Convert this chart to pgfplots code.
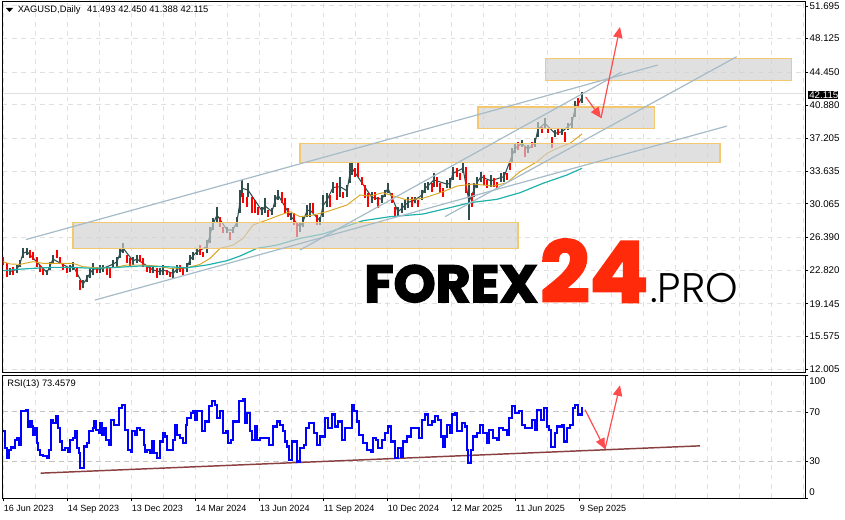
\documentclass[border=0pt]{standalone}
\usepackage{fontspec}
\usepackage{pgfplots}
\usepackage{pgfplotstable}
\pgfplotsset{compat=1.18}
\usetikzlibrary{arrows.meta}
\setmainfont{Liberation Sans}
\newfontfamily\logobold{Poppins}[FakeBold=3,FakeStretch=1.03]
\newfontfamily\logolight{Poppins Light}

\definecolor{candleup}{HTML}{2F4F4F}
\definecolor{candledn}{HTML}{FF0000}
\definecolor{maslow}{HTML}{DAA520}
\definecolor{mafast}{HTML}{20B2AA}
\definecolor{trend}{HTML}{A6BBC8}
\definecolor{zonefill}{HTML}{D0D0D0}
\definecolor{zoneedge}{HTML}{F4C86E}
\definecolor{gridc}{HTML}{E0E0E0}
\definecolor{levelc}{HTML}{C4C4C4}
\definecolor{arrowc}{HTML}{FF4D4D}
\definecolor{rsitrend}{HTML}{8B4040}
\definecolor{logored}{HTML}{FF2A0A}

% candles: bar, low, high
\pgfplotstableread{
x l h
10 22.28 23.01
17 22.46 23.38
20 23.19 23.92
23 24.10 25.20
27 24.47 25.20
47 22.28 22.83
50 22.83 23.74
53 23.56 24.47
70 22.65 23.38
73 22.83 23.74
83 20.82 21.73
87 21.55 22.28
90 21.92 23.01
93 22.28 23.56
100 22.46 23.38
103 22.65 23.38
113 23.01 23.92
117 23.19 24.29
120 24.10 25.20
123 24.65 25.82
133 23.38 24.29
137 23.56 24.47
153 22.46 23.19
160 22.28 23.01
163 22.28 23.38
173 21.92 23.01
177 22.46 23.38
187 22.65 23.56
190 23.38 24.47
193 23.92 24.83
197 24.47 25.20
207 24.65 26.11
210 25.74 27.57
213 27.20 28.48
217 27.93 29.75
227 26.84 27.57
233 26.84 27.57
237 27.57 28.66
240 29.03 31.58
242 30.85 32.67
248 30.85 32.31
262 28.84 29.75
265 29.03 30.67
272 28.84 29.57
275 29.75 31.03
278 30.48 31.58
291 28.30 29.03
300 27.02 28.12
303 27.57 28.66
307 28.66 29.94
310 28.66 30.12
320 27.75 28.66
323 28.66 31.03
327 29.75 31.21
333 31.21 32.49
340 30.85 33.03
347 30.85 32.12
350 32.31 34.49
352 33.22 34.67
372 30.12 31.39
382 30.12 31.03
385 30.85 31.58
388 31.21 32.31
398 28.66 29.75
402 29.03 30.12
405 29.39 30.48
408 29.57 30.85
415 30.12 30.85
422 30.48 31.58
425 31.21 32.31
428 31.58 32.49
434 31.94 33.40
447 31.76 32.67
450 31.76 32.85
453 32.67 34.13
463 33.40 34.49
469 28.30 32.31
474 30.85 32.31
477 31.76 33.03
481 32.49 33.58
491 31.94 33.22
501 32.49 33.40
504 32.49 33.58
512 34.49 36.13
515 35.59 36.68
522 36.31 37.04
528 35.59 36.50
535 36.31 37.23
538 37.41 39.05
545 38.32 39.41
555 37.41 38.14
562 37.59 38.32
568 38.14 38.87
572 38.32 39.59
575 39.59 41.26
582 41.05 42.33
}\upbars

\pgfplotstableread{
x l h
3 23.38 24.29
7 22.10 23.56
13 22.28 23.19
30 24.10 25.01
33 23.92 24.83
37 23.19 24.29
40 22.65 23.38
43 22.28 23.01
57 24.10 25.01
60 23.56 24.29
63 22.83 23.56
67 22.46 23.19
77 22.10 23.19
80 20.64 21.73
97 22.46 23.19
107 22.28 23.01
110 21.92 23.01
127 23.56 24.47
130 23.19 24.10
140 23.74 24.47
143 23.19 24.10
147 22.65 23.38
150 22.46 23.38
157 21.92 23.01
167 22.28 22.83
170 22.10 22.65
180 22.65 23.38
183 22.28 23.01
200 24.47 25.56
203 24.29 24.83
220 27.57 28.66
223 26.84 27.57
230 26.11 27.02
243 30.12 31.21
247 29.75 30.85
252 29.03 30.85
255 29.03 30.48
258 28.84 29.75
268 28.66 29.39
282 30.12 31.39
285 29.03 30.67
288 28.66 29.57
294 27.75 29.03
297 26.47 27.93
313 29.03 30.12
317 27.75 28.84
330 29.75 31.03
337 30.48 32.31
343 30.67 31.39
355 33.03 33.95
358 33.03 34.49
362 32.12 33.03
365 30.67 32.12
368 29.75 31.21
375 30.48 31.39
378 29.57 30.85
392 30.12 31.21
395 28.66 29.75
412 29.75 30.85
418 29.75 30.48
432 31.39 32.31
437 31.94 33.03
440 31.21 32.31
443 30.85 31.76
457 33.03 33.95
460 32.67 33.40
466 31.21 34.13
472 29.75 31.21
484 32.12 33.22
487 31.76 32.67
494 31.94 32.85
497 31.76 32.49
507 32.67 33.40
510 33.76 34.67
518 35.95 36.86
525 35.22 36.31
532 36.13 36.86
542 37.77 38.50
548 37.77 38.32
552 36.13 37.41
558 37.59 38.32
565 36.86 37.95
578 40.51 41.60
}\downbars

\pgfplotstableread{
x y
3 23.74
10 23.49
20 23.45
33 23.74
43 23.56
53 23.56
73 23.56
83 23.19
97 23.08
113 23.08
127 23.38
140 23.38
157 23.27
170 23.01
187 23.08
200 23.45
210 24.10
220 25.20
233 25.56
243 26.29
253 27.75
267 28.30
280 28.84
290 29.21
300 28.66
313 28.84
327 29.21
347 29.94
360 31.03
370 30.92
383 31.28
407 30.48
423 30.67
443 31.39
457 32.01
473 32.23
493 32.01
507 32.38
520 33.58
537 34.67
547 35.59
557 36.13
570 36.68
582 37.70
}\maslow

\pgfplotstableread{
x y
3 22.76
17 22.90
33 23.01
53 23.12
73 23.12
93 23.01
117 23.12
140 23.27
167 23.19
187 23.08
207 23.38
227 23.85
240 24.36
257 25.20
277 25.56
300 26.29
323 26.77
340 27.38
363 28.22
390 28.66
423 28.95
447 29.57
470 30.19
497 30.56
520 31.28
543 32.31
567 33.22
582 33.95
}\mafast

\pgfplotstableread{
x y
3.3 54.2
4.7 40.5
6.7 32.4
8.7 39.2
10.7 41.4
12.7 40.5
14.7 47.4
17.3 48.7
19.3 43.3
21.3 70.5
24 71.0
26 71.3
28 58.2
30 62.3
31.7 58.2
33.3 51.4
35 56.9
36.7 44.6
38.3 39.2
40 35.1
43.3 34.3
46.7 32.4
49.3 39.2
51 63.7
53.3 61.0
56 66.4
58.3 56.9
60 46.0
61.7 39.2
65 40.5
67.7 37.8
70 47.4
73.3 48.7
75.3 54.2
76.7 40.5
79.3 36.5
80 24.2
82.7 24.2
84 41.9
87.3 44.6
89.3 54.2
92.7 56.9
94 62.3
96 55.5
98.7 52.8
100 61.0
102 51.4
104 56.9
106 47.4
109.3 43.3
111.3 63.7
114 59.6
116.7 59.6
119.3 73.2
122 75.9
124 75.9
125.3 55.5
128 39.2
130.7 37.8
132 54.2
135 51.4
137.3 56.9
140 55.5
144 43.3
144.7 37.8
147.3 39.2
150 36.5
152 46.0
154 36.5
157.3 32.4
160 46.0
163.3 52.8
165.3 50.1
167.3 39.2
170 39.2
172.7 47.4
174.7 59.6
176.7 51.4
180 48.7
183.3 44.6
186 59.6
187.3 65.0
190.7 69.1
193.3 70.5
195.3 63.7
197.3 70.5
200 70.5
202 54.2
205.3 62.3
208.7 74.6
212 78.6
215.3 75.9
217.3 65.0
220 70.5
222.7 52.8
226 54.2
228 44.6
230.7 47.4
233.3 62.3
237.3 62.3
239.3 78.6
242.7 80.0
244.7 60.9
247.3 69.1
250 54.2
252 47.4
255 58.2
257.3 47.4
260 48.7
263.3 48.7
266.7 48.7
269.3 43.3
273.3 58.2
276.7 62.3
280 59.6
282.7 54.2
284.7 46.0
286.7 41.9
289.3 31.0
292 46.0
294.7 46.0
297.3 29.7
300 40.5
304 43.3
306 56.9
309.3 61.0
312 61.0
314 52.8
317.3 43.3
320 50.1
323.3 50.1
325.3 65.0
328.3 56.9
331.7 67.8
335 58.2
338.3 62.3
341.7 47.4
345 56.9
348.3 56.9
351.7 75.9
354 70.5
356.7 62.3
359.3 51.4
363.3 44.6
366.7 39.2
370.7 37.8
372.7 48.7
376 47.4
378.3 40.5
381.7 47.4
385 52.8
387.7 58.2
390.7 46.0
395 32.4
397.7 40.5
401 33.7
403.3 46.0
407.3 50.1
410.7 56.9
415 56.9
419.3 48.7
421.7 63.7
425 67.8
428.3 59.6
431.7 62.3
435 66.4
438.3 63.7
440.7 50.1
442.7 41.9
445 50.1
446.7 59.6
450 52.8
451.7 67.8
455 69.1
457.3 54.2
461.7 61.0
465 58.2
466.7 39.2
468.3 28.3
470.7 39.2
473.3 50.1
476.7 52.8
480 59.6
483.3 52.8
486.7 44.6
489.3 55.5
493.3 48.7
496.7 47.4
499.3 56.9
503.3 55.5
507.3 51.4
508.7 65.0
512 74.6
515 69.1
519.3 70.5
522 59.6
525 56.9
528.3 56.9
531.7 63.7
535 55.5
537.3 71.8
540.7 63.7
544 73.2
546.7 58.2
549.3 55.5
551.3 41.4
554.7 52.8
557.3 58.2
561.7 59.6
564 46.0
566.7 56.9
570 59.6
572.7 73.2
575.3 75.9
578 67.8
580 67.8
582 74.0
}\rsidata

\begin{document}
\begin{tikzpicture}
\path[use as bounding box] (0,0) rectangle (633.75pt,389.25pt);

% price pane
\begin{axis}[
  name=price,
  scale only axis,
  at={(1.875pt,110.25pt)}, anchor=south west,
  width=601.875pt, height=277.5pt,
  xmin=2.5, xmax=805, ymin=11.68, ymax=52.13,
  axis line style={black,line width=0.75pt},
  xtick={3,35,67,99,131,163,195,227,259,291,323,355,387,419,451,483,515,547,579,611,643,675,707,739,771,803},
  xticklabels={},
  xmajorgrids, ymajorgrids,
  grid style={gridc,line width=0.75pt,dash pattern=on 3.5pt off 3.5pt},
  x tick style={draw=none},
  y tick style={black,line width=0.6pt},
  tick align=outside, major tick length=2.5pt,
  xtick pos=bottom, ytick pos=right, yticklabel pos=right,
  ytick={12.005,15.575,19.145,22.82,26.39,30.065,33.635,37.205,40.88,44.45,48.125,51.695},
  yticklabel style={/pgf/number format/fixed,/pgf/number format/fixed zerofill,/pgf/number format/precision=3,/pgf/number format/assume math mode=true,font=\fontsize{7.3}{8}\selectfont,xshift=-2.5pt},
  scaled y ticks=false,
]
\addplot[gridc,line width=0.9pt] coordinates {(2.5,42.115) (805,42.115)};
\addplot[candleup,line width=0.8pt,forget plot] table[x=x,y expr=(\thisrow{l}+\thisrow{h})/2] {\upbars};
\addplot[draw=none,forget plot,error bars/.cd,y dir=plus,y explicit,error mark=none,error bar style={candleup,line width=2pt}]
  table[x=x,y=l,y error plus expr=\thisrow{h}-\thisrow{l}] {\upbars};
\addplot[draw=none,forget plot,error bars/.cd,y dir=plus,y explicit,error mark=none,error bar style={candledn,line width=2.1pt}]
  table[x=x,y=l,y error plus expr=\thisrow{h}-\thisrow{l}] {\downbars};
\addplot[maslow,line width=0.7pt] table[x=x,y=y] {\maslow};
\addplot[mafast,line width=0.9pt] table[x=x,y=y] {\mafast};
% zones
\addplot[fill=zonefill,fill opacity=0.65,draw=zoneedge,line width=0.8pt] coordinates {(73,25.20) (518,25.20) (518,28.04) (73,28.04)} -- cycle;
\addplot[fill=zonefill,fill opacity=0.65,draw=zoneedge,line width=0.8pt] coordinates {(300,34.60) (720,34.60) (720,36.61) (300,36.61)} -- cycle;
\addplot[fill=zonefill,fill opacity=0.65,draw=zoneedge,line width=0.8pt] coordinates {(478,38.32) (654.5,38.32) (654.5,40.65) (478,40.65)} -- cycle;
\addplot[fill=zonefill,fill opacity=0.65,draw=zoneedge,line width=0.8pt] coordinates {(545.3,43.57) (791.5,43.57) (791.5,45.98) (545.3,45.98)} -- cycle;
% trend lines
\addplot[trend,line width=0.9pt] coordinates {(26,26.16) (657.7,45.24)};
\addplot[trend,line width=0.9pt] coordinates {(300,25.02) (621.7,44.48)};
\addplot[trend,line width=0.9pt] coordinates {(95,19.55) (727,38.57)};
\addplot[trend,line width=0.9pt] coordinates {(445,28.66) (736.7,46.15)};
% arrows
\addplot[arrowc,line width=0.9pt,-{Triangle[length=8pt,width=7pt]}] coordinates {(585.7,41.75) (601,39.45)};
\addplot[arrowc,line width=0.9pt,-{Triangle[length=8pt,width=7pt]}] coordinates {(601,39.45) (620,49.40)};
\end{axis}

% rsi pane
\begin{axis}[
  name=rsi,
  scale only axis,
  at={(1.875pt,15.75pt)}, anchor=south west,
  width=601.875pt, height=92.25pt,
  xmin=2.5, xmax=805, ymin=0, ymax=100,
  axis line style={black,line width=0.75pt},
  xtick={3,67,131,195,259,323,387,451,515,579},
  xticklabels={16 Jun 2023,14 Sep 2023,13 Dec 2023,14 Mar 2024,13 Jun 2024,11 Sep 2024,10 Dec 2024,12 Mar 2025,11 Jun 2025,9 Sep 2025},
  minor xtick={35,99,163,227,291,355,419,483,547,611,643,675,707,739,771,803},
  xmajorgrids, xminorgrids,
  grid style={gridc,line width=0.75pt,dash pattern=on 3.5pt off 3.5pt},
  tick align=outside, major tick length=2.5pt, minor tick length=0pt,
  tick style={black,line width=0.6pt},
  xtick pos=bottom, ytick pos=right, yticklabel pos=right,
  ytick={0,30,70,100},
  yticklabels={},
  xticklabel style={anchor=north west,font=\fontsize{6.75}{8}\selectfont,xshift=-2.8pt,yshift=0.5pt},
]
\addplot[levelc,line width=0.75pt,dash pattern=on 4pt off 3pt] coordinates {(2.5,70) (805,70)};
\addplot[levelc,line width=0.75pt,dash pattern=on 4pt off 3pt] coordinates {(2.5,30) (805,30)};
\addplot[rsitrend,line width=1.1pt] coordinates {(40.7,20.2) (700,42.4)};
\addplot[blue,line width=1.7pt,const plot] table[x=x,y=y] {\rsidata};
\addplot[arrowc,line width=0.9pt,-{Triangle[length=8pt,width=7pt]}] coordinates {(585,71.8) (605,39.8)};
\addplot[arrowc,line width=0.9pt,-{Triangle[length=8pt,width=7pt]}] coordinates {(605,39.8) (620,91.7)};
\end{axis}

% labels in pixel positions from the top left
\begin{scope}[x=0.75pt,y=-0.75pt,yshift=389.25pt]
\fill[black] (6,8) -- (13,8) -- (9.5,12) -- cycle;
\node[anchor=west,inner sep=0,font=\fontsize{7}{8}\selectfont] at (17.5,10.5) {XAGUSD,Daily\hspace{5pt}41.493 42.450 41.388 42.115};
\node[anchor=west,inner sep=0,font=\fontsize{7}{8}\selectfont] at (7,384) {RSI(13) 73.4579};
\fill[black] (807.5,91) rectangle (838,99);
\node[anchor=west,inner sep=0,text=white,font=\fontsize{7.3}{8}\selectfont] at (809,95) {42.115};
\begin{scope}[font=\fontsize{7.3}{8}\selectfont]
\node[anchor=west,inner sep=0] at (809,381) {100};
\node[anchor=west,inner sep=0] at (809,412.3) {70};
\node[anchor=west,inner sep=0] at (809,461.3) {30};
\node[anchor=west,inner sep=0] at (809,491.7) {0};
\end{scope}
\node[anchor=base west,inner sep=0,font=\logobold\bfseries\fontsize{39}{40}\selectfont] at (364,302) {FOREX};
\node[anchor=base west,inner sep=0,text=logored,font=\logobold\bfseries\fontsize{63}{65}\selectfont] at (540,302) {24};
\node[anchor=base west,inner sep=0,font=\logolight\fontsize{31}{32}\selectfont] at (650,302) {.PRO};
\end{scope}
\end{tikzpicture}
\end{document}
